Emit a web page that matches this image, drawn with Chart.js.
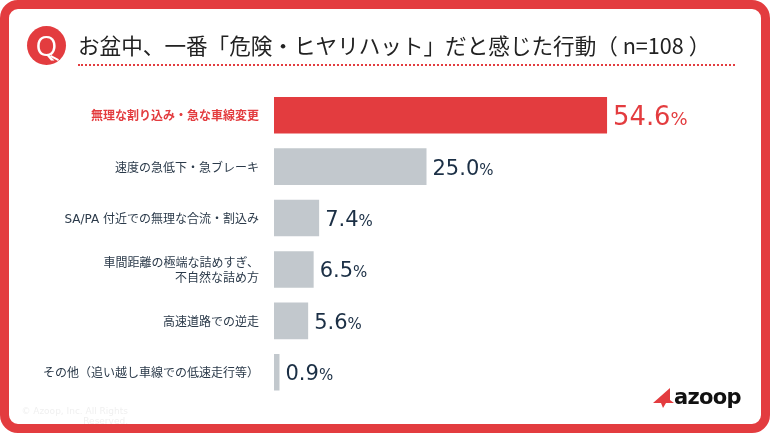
<!DOCTYPE html>
<html lang="ja">
<head>
<meta charset="utf-8">
<style>
  html, body { margin: 0; padding: 0; background: #fff; }
  #wrap { position: relative; width: 770px; height: 433px; overflow: hidden; }
  #lineChart { position: absolute; left: 0; top: 0; }
  #frame { position: absolute; left: 0; top: 0; width: 770px; height: 433px; box-sizing: border-box;
    border: 9px solid #e33c3f; border-radius: 18px; pointer-events: none; }
  #badge { position: absolute; left: 27px; top: 26px; width: 39px; height: 39px; border-radius: 50%;
    background: #e33c3f; color: #fff; font: 400 28px/38px "Open Sans", sans-serif; text-align: center; }
  #tail { position: absolute; left: 50px; top: 57px; width: 9px; height: 2px; background: #fff; transform: rotate(28deg); }
  #title { position: absolute; left: 78px; top: 29px; white-space: nowrap; color: #222;
    font: 400 21.6px/32px "Noto Sans CJK JP", sans-serif; }
  #dots { position: absolute; left: 78px; top: 64px; width: 657px; border-top: 2px dotted #e33c3f; }
  #copy { position: absolute; left: 20px; top: 406px; width: 108px; text-align: right; color: #f0f0f0;
    font: 9px/10px "DejaVu Sans", sans-serif; }
  #logo { position: absolute; left: 652px; top: 387px; width: 24px; height: 22px; }
  #brand { position: absolute; left: 674px; top: 382px; color: #111;
    font: 700 21px/30px "DejaVu Sans", sans-serif; letter-spacing: -0.7px; }
</style>
</head>
<body>
<div id="wrap">
  <canvas id="lineChart" width="770" height="433"></canvas>
  <div id="frame"></div>
  <div id="badge">Q</div>
  <div id="tail"></div>
  <div id="title">お盆中、一番「危険・ヒヤリハット」だと感じた行動（ n=108 ）</div>
  <div id="dots"></div>
  <div id="copy">© Azoop, Inc. All Rights Reserved.</div>
  <svg id="logo" viewBox="0 0 24 22"><path d="M1 16 L18 1 L18 13 L22 16 L14 16 L11 21 L9 16 Z" fill="#e33c3f"/></svg>
  <div id="brand">azoop</div>
</div>
<script src="https://cdn.jsdelivr.net/npm/chart.js@4"></script>
<script>
const categories = [
  "無理な割り込み・急な車線変更",
  "速度の急低下・急ブレーキ",
  "SA/PA 付近での無理な合流・割込み",
  ["車間距離の極端な詰めすぎ、", "不自然な詰め方"],
  "高速道路での逆走",
  "その他（追い越し車線での低速走行等）"
];
const values = [54.6, 25.0, 7.4, 6.5, 5.6, 0.9];
const red = "#e33c3f";
const grey = "#c2c8cd";
const navy = "#1b2f45";

// 値ラベルは数字と%でサイズが違うので自前で描く
const valueLabels = {
  id: "valueLabels",
  afterDatasetsDraw(chart) {
    const c = chart.ctx;
    const meta = chart.getDatasetMeta(0);
    c.save();
    c.textBaseline = "alphabetic";
    c.textAlign = "left";
    meta.data.forEach((bar, i) => {
      const first = i === 0;
      const num = values[i].toFixed(1);
      const x = bar.x + 6;
      const y = bar.y + (first ? 10 : 8);
      c.fillStyle = first ? red : navy;
      c.font = (first ? 25.8 : 21) + 'px "DejaVu Sans"';
      c.fillText(num, x, y);
      const w = c.measureText(num).width;
      c.font = (first ? 18 : 15) + 'px "DejaVu Sans"';
      c.fillText("%", x + w, y);
    });
    c.restore();
  }
};

new Chart(document.getElementById("lineChart").getContext("2d"), {
  type: "bar",
  data: {
    labels: categories,
    datasets: [{
      data: values,
      backgroundColor: values.map((v, i) => i === 0 ? red : grey),
      borderWidth: 0,
      barPercentage: 0.71,
      categoryPercentage: 1
    }]
  },
  options: {
    indexAxis: "y",
    responsive: false,
    animation: false,
    layout: { padding: { top: 89.5, bottom: 35, left: 0, right: 69 } },
    plugins: { legend: { display: false }, tooltip: { enabled: false }, title: { display: false } },
    scales: {
      x: { display: false, min: 0, max: 70 },
      y: {
        afterFit(axis) { axis.width = 274; },
        border: { display: false },
        grid: { display: false },
        ticks: {
          padding: 7,
          labelOffset: 2,
          autoSkip: false,
          color: ctx => ctx.index === 0 ? red : "#2b3a4a",
          font: ctx => ({
            family: '"DejaVu Sans", "Noto Sans CJK JP"',
            size: 12,
            weight: ctx.index === 0 ? "bold" : "normal",
            lineHeight: 1.25
          })
        }
      }
    }
  },
  plugins: [valueLabels]
});
</script>
</body>
</html>
